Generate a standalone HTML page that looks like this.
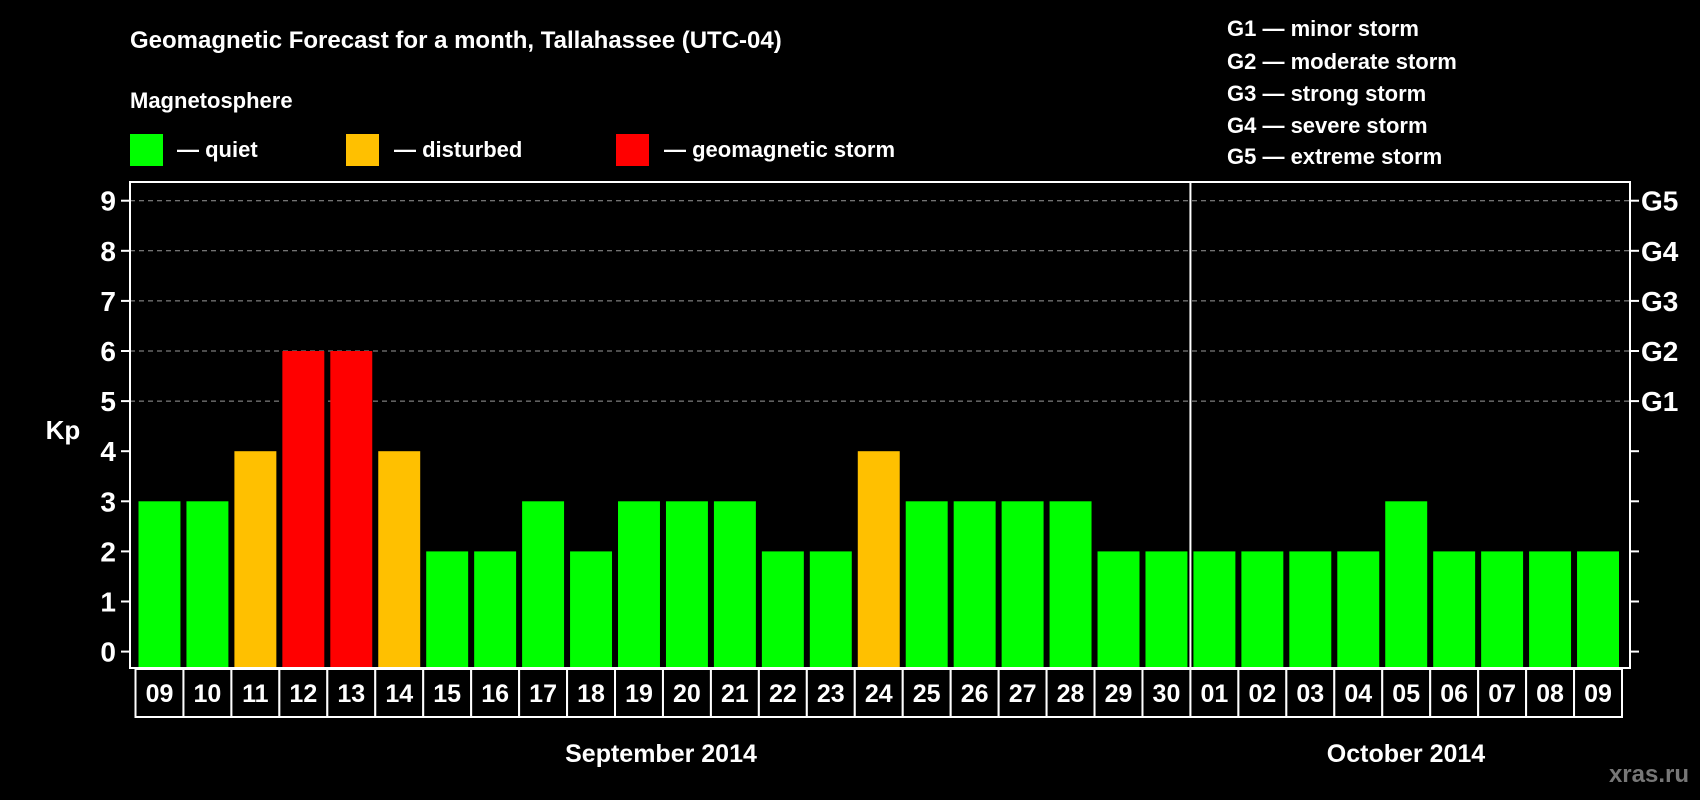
<!DOCTYPE html>
<html><head><meta charset="utf-8"><style>
html,body{margin:0;padding:0;background:#000;}
svg{display:block;font-family:"Liberation Sans",Arial,sans-serif;font-weight:bold;}
</style></head><body>
<svg id="chart" width="1700" height="800" viewBox="0 0 1700 800">
<rect x="0" y="0" width="1700" height="800" fill="#000"/>
<text x="130" y="48" fill="#fff" font-size="24">Geomagnetic Forecast for a month, Tallahassee (UTC-04)</text>
<text x="130" y="108" fill="#fff" font-size="22">Magnetosphere</text>
<g><rect x="130" y="134" width="33" height="32" fill="#00ff00"/><text x="177" y="157" fill="#fff" font-size="22">— quiet</text></g>
<g><rect x="346" y="134" width="33" height="32" fill="#ffc000"/><text x="394" y="157" fill="#fff" font-size="22">— disturbed</text></g>
<g><rect x="616" y="134" width="33" height="32" fill="#ff0000"/><text x="664" y="157" fill="#fff" font-size="22">— geomagnetic storm</text></g>
<g fill="#fff" font-size="22">
<text x="1227" y="36">G1 — minor storm</text>
<text x="1227" y="69">G2 — moderate storm</text>
<text x="1227" y="101">G3 — strong storm</text>
<text x="1227" y="133">G4 — severe storm</text>
<text x="1227" y="164">G5 — extreme storm</text>
</g>
<text x="63" y="439" fill="#fff" font-size="26" text-anchor="middle">Kp</text>
<g id="plot"></g>
<text x="661" y="762" fill="#fff" font-size="25" text-anchor="middle">September 2014</text>
<text x="1406" y="762" fill="#fff" font-size="25" text-anchor="middle">October 2014</text>
<text x="1689" y="782" fill="#777" font-size="24" text-anchor="end">xras.ru</text>
</svg>
<script>
const days = ["09","10","11","12","13","14","15","16","17","18","19","20","21","22","23","24","25","26","27","28","29","30","01","02","03","04","05","06","07","08","09"];
const kpValues = [3,3,4,6,6,4,2,2,3,2,3,3,3,2,2,4,3,3,3,3,2,2,2,2,2,2,3,2,2,2,2];
const yTicks = [0,1,2,3,4,5,6,7,8,9];
const gLabels = ["G1","G2","G3","G4","G5"];
const monthBreakIndex = 22;

const NS = "http://www.w3.org/2000/svg";
const plot = document.getElementById("plot");
const L = 130, R = 1630, T = 182, B = 668;
const boxL = 135.5, boxR = 1622, boxT = 669, boxB = 717;
const slot = (boxR - boxL) / days.length;
const y = v => 651.6 - v * 50.1;
const x = i => boxL + i * slot;
function mk(tag, attrs) { const e = document.createElementNS(NS, tag); for (const k in attrs) e.setAttribute(k, attrs[k]); plot.appendChild(e); return e; }
function color(v) { return v >= 5 ? "#ff0000" : (v >= 4 ? "#ffc000" : "#00ff00"); }

yTicks.forEach(t => {
  if (t >= 5) {
    const g = mk("line", {x1: L, x2: R, y1: y(t), y2: y(t), stroke: "#999", "stroke-width": 1, "stroke-dasharray": "5,4"});
    
    
  }
  const tl = mk("line", {x1: L - 9, x2: L, y1: y(t), y2: y(t), stroke: "#fff", "stroke-width": 2});
  
  
  const tr = mk("line", {x1: R, x2: R + 9, y1: y(t), y2: y(t), stroke: "#fff", "stroke-width": 2});
  
  
  const lb = mk("text", {x: 116, y: y(t) + 10, fill: "#fff", "font-size": 28, "text-anchor": "end"});
  lb.textContent = t;
  
  
});
gLabels.forEach((g, i) => {
  const lb = mk("text", {x: 1641, y: y(5 + i) + 10, fill: "#fff", "font-size": 28});
  lb.textContent = g;
  
  
});
kpValues.forEach((v, i) => {
  const b = mk("rect", {x: x(i) + 3, y: y(v), width: slot - 6, height: B - y(v), fill: color(v)});
  
  
});
const frame = mk("rect", {x: L, y: T, width: R - L, height: B - T, fill: "none", stroke: "#fff", "stroke-width": 2});


const sep = mk("line", {x1: x(monthBreakIndex), x2: x(monthBreakIndex), y1: T, y2: B, stroke: "#fff", "stroke-width": 2});


days.forEach((d, i) => {
  const r = mk("rect", {x: x(i), y: boxT, width: slot, height: boxB - boxT, fill: "#000", stroke: "#fff", "stroke-width": 2});
  
  
  const t = mk("text", {x: x(i) + slot / 2, y: boxT + 33, fill: "#fff", "font-size": 25, "text-anchor": "middle"});
  t.textContent = d;
  
  
});
</script>
</body></html>
